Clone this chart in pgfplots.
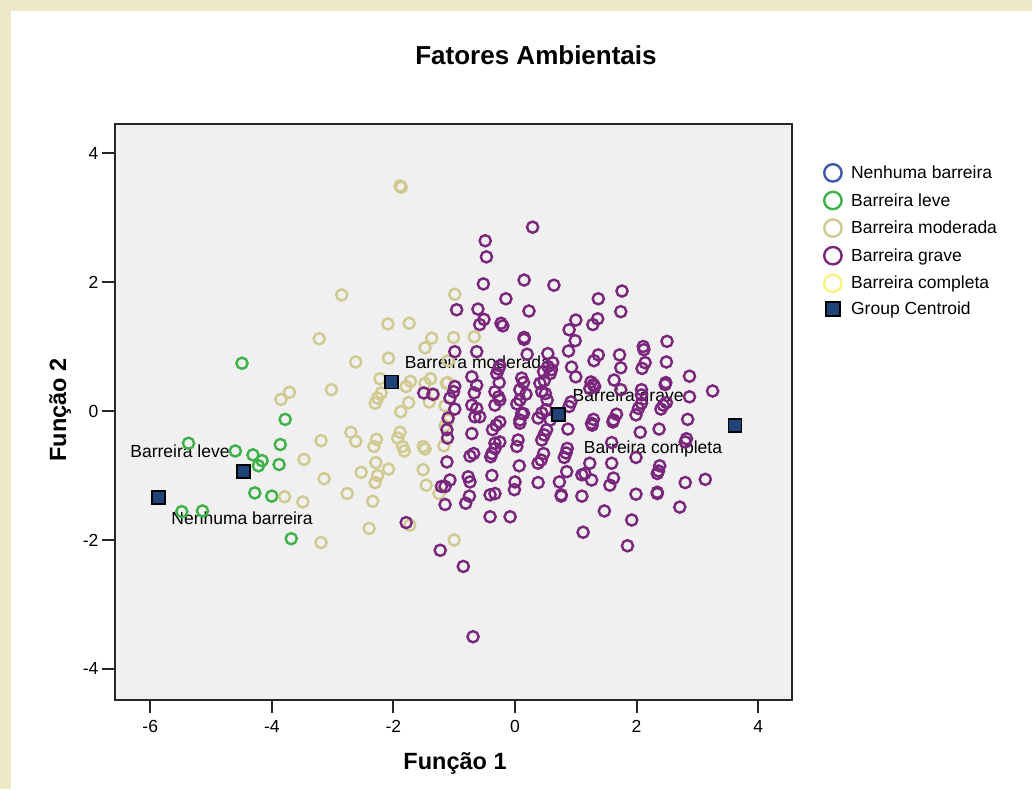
\documentclass[border=0pt]{standalone}
\usepackage{pgfplots}
\pgfplotsset{compat=1.18}
\usepackage{fontspec}
\setmainfont{Liberation Sans}
\definecolor{beige}{RGB}{237,232,198}
\definecolor{plotbg}{RGB}{240,240,240}
\definecolor{cnen}{RGB}{62,88,170}
\definecolor{cleve}{RGB}{62,178,72}
\definecolor{cmod}{RGB}{208,202,145}
\definecolor{cgrave}{RGB}{122,38,124}
\definecolor{ccomp}{RGB}{248,242,130}
\definecolor{ccent}{RGB}{30,68,120}
\newcommand{\fs}{\fontsize{17.5}{21}\selectfont}
\pgfplotsset{
  legcirc/.style={legend image code/.code={\draw[##1, mark size=8.7pt, line width=2.4pt] plot coordinates {(0pt,0pt)};}},
  legsq/.style={legend image code/.code={\draw[##1, mark size=7pt, line width=2pt] plot coordinates {(0pt,0pt)};}},
  pt/.style={only marks, mark=o, mark size=5.6pt, line width=2.4pt},
}
\begin{document}
\begin{tikzpicture}[x=1pt,y=1pt]
\useasboundingbox (0,0) rectangle (1032,789);
\fill[beige] (0,0) rectangle (1032,789);
\fill[white] (11,0) rectangle (1032,778);
\begin{axis}[
  scale only axis, width=677pt, height=576pt,
  at={(115pt,89pt)}, anchor=south west,
  xmin=-6.579, xmax=4.556, ymin=-4.481, ymax=4.450,
  xtick={-6,-4,-2,0,2,4}, ytick={-4,-2,0,2,4},
  xtick pos=bottom, ytick pos=left,
  tick align=outside, major tick length=13pt,
  tick style={line width=2pt, black!85},
  axis line style={line width=2pt, black!85},
  axis background/.style={fill=plotbg},
  /pgf/number format/assume math mode=true,
  ticklabel style={font=\fs},
  xticklabel style={yshift=-4pt},
  legend style={draw=none, fill=none, at={(1,1)}, anchor=north west,
    xshift=32pt, yshift=-40pt, inner sep=0pt, row sep=10.2pt,
    column sep=9.5pt, font=\fs, nodes={inner sep=0pt}},
  legend cell align=left,
  legcirc,
]
\addlegendimage{only marks, mark=o, color=cnen}
\addplot[pt, color=cleve] coordinates {
(-4.49,0.74) (-3.78,-0.13) (-3.86,-0.52) (-5.37,-0.50) (-4.60,-0.62)
(-4.31,-0.68) (-4.16,-0.77) (-4.22,-0.85) (-3.88,-0.83) (-4.28,-1.27)
(-4.00,-1.32) (-5.48,-1.56) (-5.14,-1.55) (-3.68,-1.98)
};
\addplot[pt, color=cmod] coordinates {
(-1.89,3.49) (-1.87,3.47) (-2.85,1.80) (-2.09,1.35) (-1.74,1.36)
(-3.22,1.12) (-1.37,1.13) (-1.48,0.98) (-2.08,0.82) (-2.62,0.76)
(-2.22,0.50) (-3.71,0.29) (-3.85,0.18) (-3.02,0.33) (-1.72,0.46)
(-1.79,0.38) (-1.39,0.50) (-1.48,0.43) (-1.13,0.43) (-2.20,0.28)
(-2.26,0.20) (-2.30,0.12) (-1.75,0.13) (-1.41,0.14) (-1.88,-0.01)
(-1.01,1.14) (-1.10,0.78) (-0.67,1.15) (-0.99,1.81) (-1.15,0.08)
(-1.15,-0.23) (-3.19,-0.46) (-2.70,-0.33) (-2.62,-0.47) (-2.28,-0.44)
(-2.32,-0.55) (-1.89,-0.33) (-1.93,-0.42) (-1.85,-0.55) (-1.82,-0.62)
(-1.51,-0.55) (-1.48,-0.59) (-1.17,-0.54) (-3.47,-0.75) (-2.29,-0.80)
(-3.14,-1.05) (-2.53,-0.95) (-2.08,-0.90) (-2.26,-1.00) (-2.30,-1.11)
(-1.51,-0.91) (-1.46,-1.15) (-1.25,-1.28) (-2.76,-1.28) (-2.34,-1.40)
(-3.49,-1.41) (-2.40,-1.82) (-1.73,-1.77) (-3.19,-2.04) (-1.00,-2.00)
(-3.79,-1.33) (-1.34,0.25) (-1.10,-0.14) (-1.11,0.44)
};
\addplot[pt, color=cgrave] coordinates {
(0.29,2.85) (-0.49,2.64) (-0.47,2.39) (-0.52,1.97) (0.15,2.03)
(0.64,1.95) (-0.15,1.74) (-0.96,1.57) (-0.61,1.58) (0.23,1.55)
(1.37,1.74) (1.76,1.86) (1.74,1.54) (-0.51,1.42) (-0.58,1.34)
(-0.23,1.36) (-0.20,1.32) (1.00,1.41) (0.89,1.26) (0.99,1.09)
(1.36,1.43) (1.28,1.34) (0.15,1.14) (0.15,1.11) (-0.99,0.92)
(-0.63,0.92) (0.20,0.88) (0.54,0.89) (0.88,0.93) (0.62,0.75)
(1.37,0.87) (1.30,0.78) (1.72,0.87) (2.11,1.00) (2.12,0.95)
(2.50,1.08) (2.49,0.76) (2.14,0.75) (2.09,0.66) (1.74,0.67)
(0.93,0.68) (1.00,0.53) (0.47,0.61) (0.54,0.69) (0.60,0.64)
(-0.25,0.70) (-0.30,0.58) (-0.27,0.65) (-0.71,0.53) (-0.63,0.40)
(-0.67,0.28) (-0.99,0.38) (-1.01,0.30) (-1.07,0.20) (-0.99,0.03)
(-1.35,0.26) (-1.50,0.28) (-0.26,0.44) (-0.33,0.30) (-0.25,0.17)
(0.11,0.51) (0.14,0.44) (0.08,0.33) (0.18,0.26) (0.08,0.17)
(0.03,0.11) (0.41,0.43) (0.48,0.47) (0.50,0.27) (0.51,0.02)
(1.25,0.45) (1.29,0.41) (1.31,0.38) (1.23,0.35) (1.63,0.48)
(1.74,0.33) (2.08,0.33) (2.08,0.25) (2.47,0.41) (2.48,0.44)
(2.87,0.54) (3.25,0.31) (2.87,0.22) (2.84,-0.13) (2.49,0.13)
(2.44,0.09) (2.40,0.03) (2.08,0.12) (2.03,0.04) (1.99,-0.06)
(1.67,-0.05) (1.62,-0.14) (1.61,-0.17) (1.29,-0.13) (1.26,-0.19)
(1.27,-0.22) (0.87,-0.28) (0.92,0.14) (0.89,0.07) (2.06,-0.33)
(2.37,-0.28) (2.82,-0.43) (2.80,-0.48) (1.99,-0.72) (2.38,-0.85)
(2.36,-0.93) (2.34,-0.97) (1.59,-0.49) (1.59,-0.81) (1.62,-1.04)
(1.56,-1.15) (1.23,-0.81) (1.15,-0.97) (1.10,-0.99) (1.26,-1.07)
(0.86,-0.58) (0.84,-0.65) (0.81,-0.72) (0.85,-0.94) (0.73,-1.10)
(0.76,-1.32) (0.76,-1.30) (1.10,-1.32) (1.47,-1.55) (1.99,-1.29)
(2.34,-1.28) (2.34,-1.26) (2.80,-1.11) (3.13,-1.06) (2.71,-1.49)
(1.92,-1.69) (0.38,-0.11) (0.44,-0.03) (0.52,-0.29) (0.48,-0.37)
(0.44,-0.45) (0.05,-0.45) (0.03,-0.55) (0.47,-0.66) (0.43,-0.76)
(0.38,-0.81) (0.07,-0.85) (0.38,-1.11) (0.00,-1.10) (-0.01,-1.22)
(-0.38,-1.00) (-0.33,-1.28) (-0.41,-1.30) (-0.77,-1.02) (-0.74,-1.10)
(-0.75,-1.32) (-0.81,-1.43) (-1.15,-1.45) (-1.07,-1.07) (-1.15,-1.17)
(-1.21,-1.17) (-0.41,-1.64) (-0.08,-1.64) (-1.12,-0.79) (-0.68,-0.66)
(-0.74,-0.70) (-0.40,-0.71) (-0.38,-0.66) (-1.11,-0.42) (-0.71,-0.35)
(-0.37,-0.29) (-0.31,-0.22) (-0.25,-0.17) (-0.33,-0.50) (-0.33,-0.58)
(-0.25,-0.48) (0.11,-0.04) (0.08,-0.14) (-0.63,0.04) (-0.58,-0.09)
(-0.66,-0.09) (-0.71,0.09) (-1.10,-0.11) (-1.12,-0.29) (1.12,-1.88)
(-1.23,-2.16) (-1.79,-1.73) (-0.85,-2.41) (-0.69,-3.50) (1.85,-2.09)
(0.44,0.30) (0.58,0.58) (0.53,0.17) (0.58,-0.14) (-0.27,0.22)
(-0.33,0.09) (0.08,-0.19) (0.14,-0.04)
};
\addlegendimage{only marks, mark=o, color=ccomp}
\addplot[only marks, mark=square*, mark size=6.5pt, line width=1.8pt, draw=black, fill=ccent, legsq] coordinates {
(-5.87,-1.34) (-4.47,-0.94) (-2.03,0.45) (0.72,-0.06) (3.62,-0.23)
};
\legend{Nenhuma barreira, Barreira leve, Barreira moderada, Barreira grave, Barreira completa, Group Centroid}
\node[font=\fs] at (axis cs:-5.51,-0.62) {Barreira leve};
\node[font=\fs] at (axis cs:-4.49,-1.67) {Nenhuma barreira};
\node[font=\fs] at (axis cs:-0.61,0.76) {Barreira moderada};
\node[font=\fs] at (axis cs:1.86,0.22) {Barreira grave};
\node[font=\fs] at (axis cs:2.27,-0.59) {Barreira completa};
\end{axis}
\node[font=\fontsize{26}{31}\selectfont\bfseries] at (536,734) {Fatores Ambientais};
\node[font=\fontsize{23.5}{28}\selectfont\bfseries] at (455,26) {Função 1};
\node[font=\fontsize{23.5}{28}\selectfont\bfseries, rotate=90] at (60,379) {Função 2};
\end{tikzpicture}
\end{document}
